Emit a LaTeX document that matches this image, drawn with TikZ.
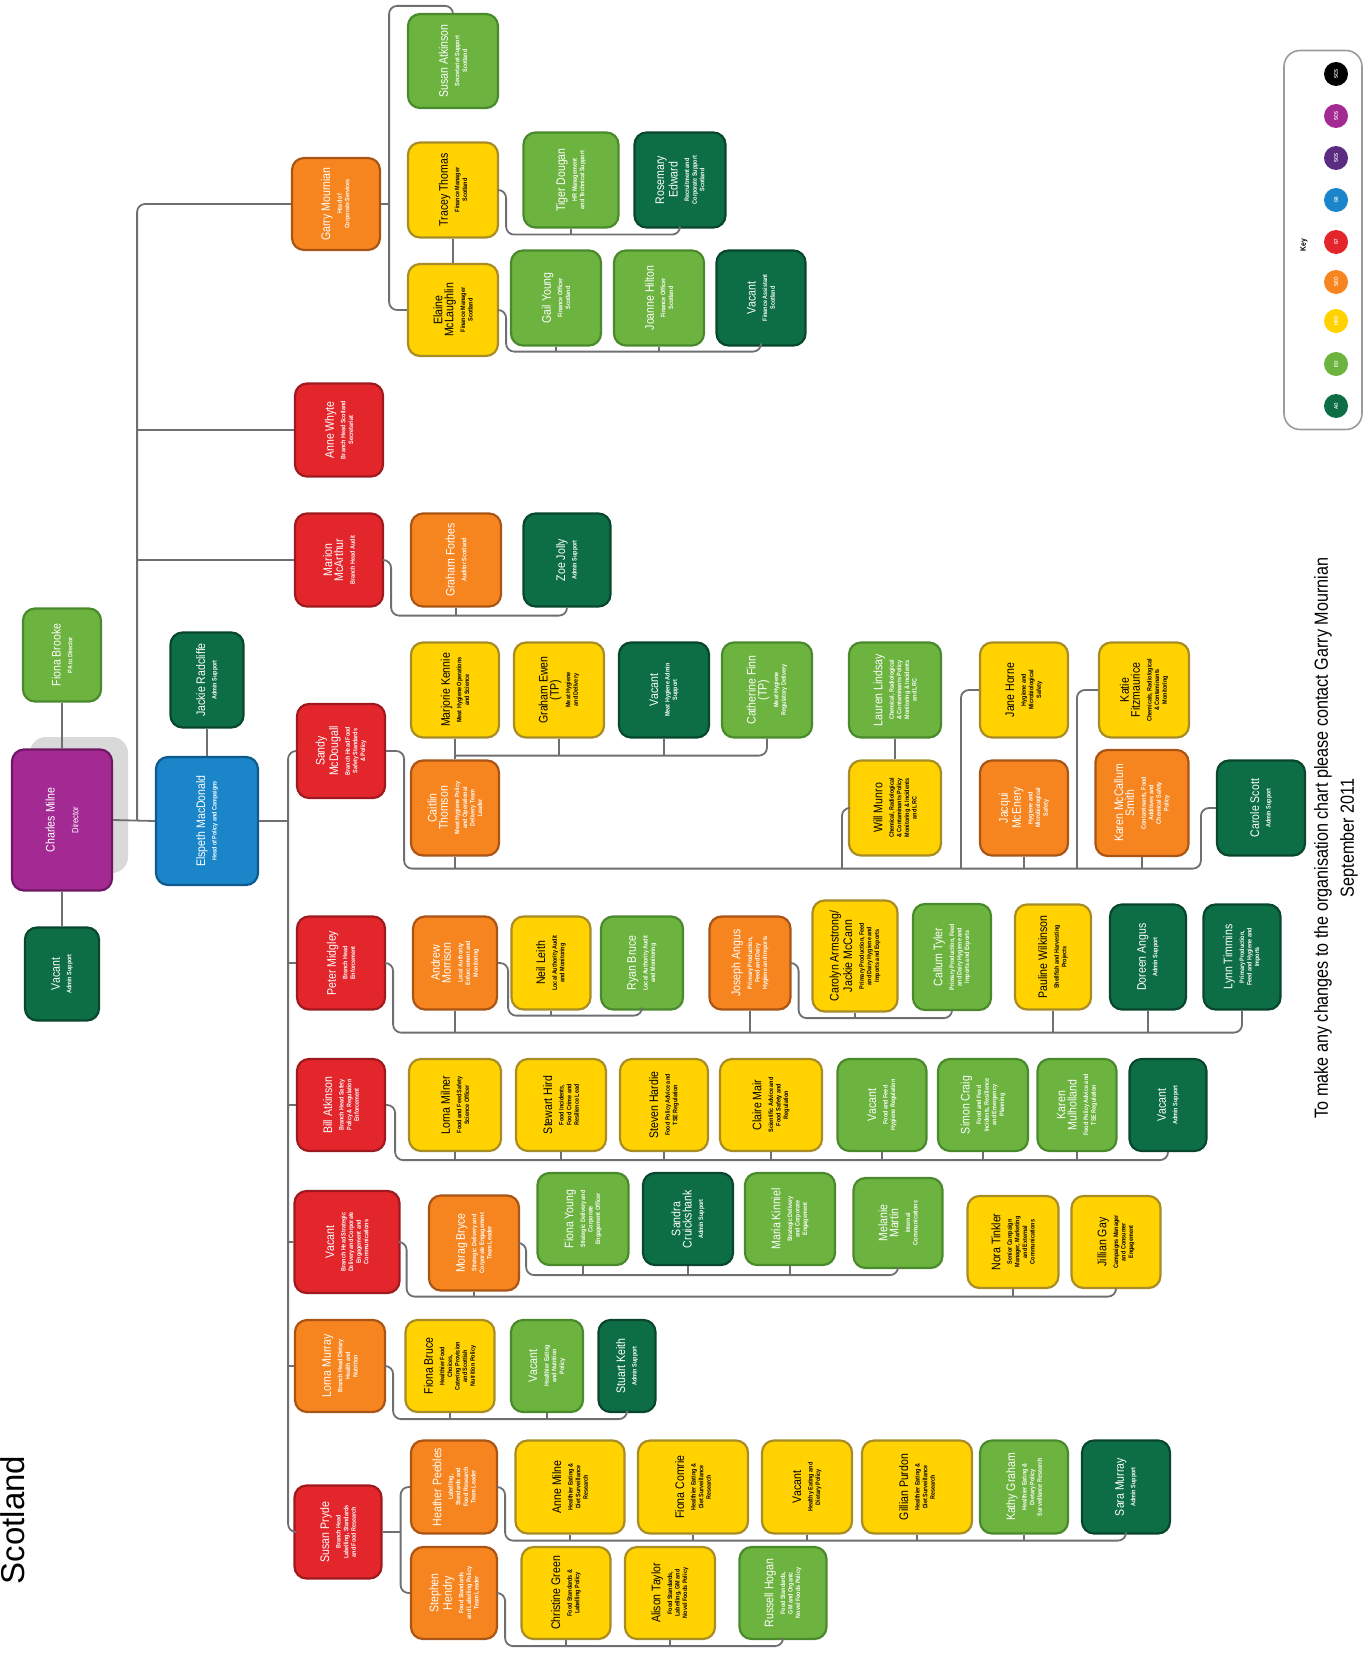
\documentclass[tikz,border=0pt]{standalone}
\usepackage{fontspec}
\setmainfont{Liberation Sans}
\newfontfamily\narrowfont{Liberation Sans}[FakeStretch=0.85]
\usepackage{tikz}
\usetikzlibrary{positioning,calc}
\definecolor{cpurple}{HTML}{A42A93}
\definecolor{cpurpleD}{HTML}{6E1763}
\definecolor{cdpurple}{HTML}{5A2D82}
\definecolor{cblue}{HTML}{1A85C8}
\definecolor{cblueD}{HTML}{0F5A8C}
\definecolor{cred}{HTML}{E3262C}
\definecolor{credD}{HTML}{9E1A1F}
\definecolor{corange}{HTML}{F6841F}
\definecolor{corangeD}{HTML}{A95516}
\definecolor{cyellow}{HTML}{FFD200}
\definecolor{cyellowD}{HTML}{A88C25}
\definecolor{clgreen}{HTML}{6CB33F}
\definecolor{clgreenD}{HTML}{4B8A2C}
\definecolor{cdgreen}{HTML}{0D6E46}
\definecolor{cdgreenD}{HTML}{08472D}
\definecolor{linkgrey}{HTML}{6E6F72}
\definecolor{keygrey}{HTML}{9A9B9D}
\newcommand{\nm}[1]{{\fontsize{6.2}{7}\selectfont\mdseries #1}}
\tikzset{
  box/.style={draw, rounded corners=6pt, rotate=90, line width=1.1pt, inner sep=1pt,
    align=center, minimum width=47pt, minimum height=44pt,
    font=\narrowfont\fontsize{3.2}{3.8}\selectfont\bfseries},
  sz/.style 2 args={minimum height=#1*0.5pt, minimum width=#2*0.5pt},
  purp/.style={box, fill=cpurple, draw=cpurpleD, text=white},
  blu/.style={box, fill=cblue, draw=cblueD, text=white},
  rd/.style={box, fill=cred, draw=credD, text=white},
  org/.style={box, fill=corange, draw=corangeD, text=white},
  yel/.style={box, fill=cyellow, draw=cyellowD, text=black},
  lgr/.style={box, fill=clgreen, draw=clgreenD, text=white},
  dgr/.style={box, fill=cdgreen, draw=cdgreenD, text=white},
  link/.style={draw=linkgrey, line width=0.9pt, rounded corners=4pt},
  keydot/.style={circle, fill=#1, minimum size=12pt, inner sep=0pt, rotate=90, text=white,
    font=\narrowfont\fontsize{2.6}{3}\selectfont\bfseries},
}
\begin{document}
\begin{tikzpicture}[x=0.5pt,y=-0.5pt]
\useasboundingbox (0,0) rectangle (1369,1653);

% title
\node[rotate=90, font=\fontsize{16.5}{18}\selectfont] (title) at (13,1520) {Scotland};

% director and deputy
\fill[gray!30, rounded corners=8pt] (30,737) rectangle (128,873);
\node[purp, sz={100}{141}] (charles) at (62,820) {\nm{Charles Milne}\\[8pt]{\fontsize{4.5}{5}\selectfont\mdseries Director}};
\node[lgr, sz={78}{93}] (fionaB) at (62,655) {\nm{Fiona Brooke}\\[2pt]PA to Director};
\node[dgr, sz={74}{93}] (vacA) at (62,974) {\nm{Vacant}\\[2pt]Admin Support};
\node[blu, sz={102}{128}] (elspeth) at (207,821) {\nm{Elspeth MacDonald}\\[2pt]Head of Policy and Campaigns};
\node[dgr, sz={73}{95}] (jackie) at (207,680) {\nm{Jackie Radcliffe}\\[2pt]Admin Support};

% branch heads
\node[org, sz={88}{92}] (garry) at (336,204) {\nm{Garry Mournian}\\[2pt]Head of\\Corporate Services};
\node[rd, sz={88}{93}] (anne) at (339,430) {\nm{Anne Whyte}\\[2pt]Branch Head Scotland\\Secretariat};
\node[rd, sz={88}{93}] (marion) at (339,560) {\nm{Marion}\\\nm{McArthur}\\[2pt]Branch Head Audit};
\node[rd, sz={88}{94}] (sandy) at (341,751) {\nm{Sandy}\\\nm{McDougall}\\[2pt]Branch Head Food\\Safety Standards\\\& Policy};
\node[rd, sz={88}{93}] (peter) at (341,963) {\nm{Peter Midgley}\\[2pt]Branch Head\\Enforcement};
\node[rd, sz={88}{92}] (bill) at (341,1105) {\nm{Bill Atkinson}\\[2pt]Branch Head Safety\\Policy \& Regulation\\Enforcement};
\node[rd, sz={105}{102}] (vacR) at (347,1242) {\nm{Vacant}\\[2pt]Branch Head Strategic\\Delivery and Corporate\\Engagement and\\Communications};
\node[org, sz={90}{92}] (lornaM) at (340,1366) {\nm{Lorna Murray}\\[2pt]Branch Head Dietary\\Health and\\Nutrition};
\node[rd, sz={87}{93}] (susanP) at (338,1532) {\nm{Susan Pryde}\\[2pt]Branch Head\\Labelling, Standards\\and Food Research};

% corporate services
\node[lgr, sz={90}{94}] (susanA) at (453,61) {\nm{Susan Atkinson}\\[2pt]Secretariat Support\\Scotland};
\node[yel, sz={90}{95}] (tracey) at (453,190) {\nm{Tracey Thomas}\\[2pt]Finance Manager\\Scotland};
\node[yel, sz={90}{92}] (elaine) at (453,310) {\nm{Elaine}\\\nm{McLaughlin}\\[2pt]Finance Manager\\Scotland};
\node[lgr, sz={95}{95}] (tiger) at (571,180) {\nm{Tiger Dougan}\\[2pt]HR Management\\and Technical Support};
\node[dgr, sz={91}{95}] (rosemary) at (680,180) {\nm{Rosemary}\\\nm{Edward}\\[2pt]Recruitment and\\Corporate Support\\Scotland};
\node[lgr, sz={90}{95}] (gail) at (556,298) {\nm{Gail Young}\\[2pt]Finance Officer\\Scotland};
\node[lgr, sz={90}{95}] (joanne) at (659,298) {\nm{Joanne Hilton}\\[2pt]Finance Officer\\Scotland};
\node[dgr, sz={89}{95}] (vacGF) at (761,298) {\nm{Vacant}\\[2pt]Finance Assistant\\Scotland};

% audit
\node[org, sz={90}{93}] (grahamF) at (456,560) {\nm{Graham Forbes}\\[2pt]Auditor Scotland};
\node[dgr, sz={87}{93}] (zoe) at (567,560) {\nm{Zoe Jolly}\\[2pt]Admin Support};

% food safety
\node[yel, sz={88}{95}] (marjorie) at (455,690) {\nm{Marjorie Kennie}\\[2pt]Meat Hygiene Operations\\and Science};
\node[yel, sz={90}{95}] (ewen) at (559,690) {\nm{Graham Ewen}\\\nm{(TP)}\\[2pt]Meat Hygiene\\and Delivery};
\node[dgr, sz={90}{95}] (vacS) at (664,690) {\nm{Vacant}\\[2pt]Meat Hygiene Admin\\Support};
\node[lgr, sz={90}{95}] (catherine) at (767,690) {\nm{Catherine Finn}\\\nm{(TP)}\\[2pt]Meat Hygiene\\Regulatory Delivery};
\node[org, sz={88}{95}] (caitlin) at (455,808) {\nm{Caitlin}\\\nm{Thomson}\\[2pt]Meat Hygiene Policy\\and Operational\\Delivery Team\\Leader};
\node[lgr, sz={92}{95}] (lauren) at (895,690) {\nm{Lauren Lindsay}\\[2pt]Chemical, Radiological\\\& Contaminants Policy\\Monitoring \& Incidents\\and LRC};
\node[yel, sz={92}{95}] (will) at (895,808) {\nm{Will Munro}\\[2pt]Chemical, Radiological\\\& Contaminants Policy\\Monitoring \& Incidents\\and LRC};
\node[yel, sz={88}{95}] (jane) at (1024,690) {\nm{Jane Horne}\\[2pt]Hygiene and\\Microbiological\\Safety};
\node[org, sz={88}{95}] (jacqui) at (1024,808) {\nm{Jacqui}\\\nm{McEnery}\\[2pt]Hygiene and\\Microbiological\\Safety};
\node[yel, sz={90}{95}] (katie) at (1144,690) {\nm{Katie}\\\nm{Fitzmaurice}\\[2pt]Chemicals, Radiological\\\& Contaminants\\Monitoring};
\node[org, sz={93}{106}] (karenMc) at (1142,803) {\nm{Karen McCallum}\\\nm{Smith}\\[2pt]Contaminants, Food\\Additives and\\Chemical Safety\\Policy};
\node[dgr, sz={88}{95}] (carole) at (1261,808) {\nm{Carole Scott}\\[2pt]Admin Support};

% enforcement
\node[org, sz={84}{93}] (andrew) at (455,963) {\nm{Andrew}\\\nm{Morrison}\\[2pt]Local Authority\\Enforcement and\\Monitoring};
\node[yel, sz={79}{93}] (neil) at (551,963) {\nm{Neil Leith}\\[2pt]Local Authority Audit\\and Monitoring};
\node[lgr, sz={82}{93}] (ryan) at (642,963) {\nm{Ryan Bruce}\\[2pt]Local Authority Audit\\and Monitoring};
\node[org, sz={81}{93}] (joseph) at (750,963) {\nm{Joseph Angus}\\[2pt]Primary Production,\\Feed and Dairy\\Hygiene and Imports};
\node[yel, sz={85}{111}] (carolyn) at (855,956) {\nm{Carolyn Armstrong/}\\\nm{Jackie McCann}\\[2pt]Primary Production, Feed\\and Dairy Hygiene and\\Imports and Exports};
\node[lgr, sz={78}{106}] (callum) at (952,957) {\nm{Callum Tyler}\\[2pt]Primary Production, Feed\\and Dairy Hygiene and\\Imports and Exports};
\node[yel, sz={76}{105}] (pauline) at (1053,957) {\nm{Pauline Wilkinson}\\[2pt]Shellfish and Harvesting\\Projects};
\node[dgr, sz={76}{105}] (doreen) at (1148,957) {\nm{Doreen Angus}\\[2pt]Admin Support};
\node[dgr, sz={77}{105}] (lynn) at (1242,957) {\nm{Lynn Timmins}\\[2pt]Primary Production,\\Feed and Hygiene and\\Imports};

% safety policy
\node[yel, sz={92}{92}] (lornaMi) at (455,1105) {\nm{Lorna Milner}\\[2pt]Food and Feed Safety\\Science Officer};
\node[yel, sz={90}{92}] (stewart) at (561,1105) {\nm{Stewart Hird}\\[2pt]Food Incidents,\\Food Crime and\\Resilience Lead};
\node[yel, sz={88}{92}] (steven) at (664,1105) {\nm{Steven Hardie}\\[2pt]Food Policy Advice and\\TSE Regulation};
\node[yel, sz={102}{92}] (claire) at (771,1105) {\nm{Claire Mair}\\[2pt]Scientific Advice and\\Food Safety and\\Regulation};
\node[lgr, sz={89}{92}] (vacB1) at (882,1105) {\nm{Vacant}\\[2pt]Food and Feed\\Hygiene Regulation};
\node[lgr, sz={90}{92}] (simon) at (983,1105) {\nm{Simon Craig}\\[2pt]Food and Feed\\Incidents, Resilience\\and Emergency\\Planning};
\node[lgr, sz={79}{92}] (karenMu) at (1077,1105) {\nm{Karen}\\\nm{Mulholland}\\[2pt]Food Policy Advice and\\TSE Regulation};
\node[dgr, sz={77}{92}] (vacB2) at (1168,1105) {\nm{Vacant}\\[2pt]Admin Support};

% strategic delivery
\node[org, sz={90}{95}] (morag) at (474,1243) {\nm{Morag Bryce}\\[2pt]Strategic Delivery and\\Corporate Engagement\\Team Leader};
\node[lgr, sz={91}{92}] (fionaY) at (583,1219) {\nm{Fiona Young}\\[2pt]Strategic Delivery and\\Corporate\\Engagement Officer};
\node[dgr, sz={90}{92}] (sandra) at (688,1219) {\nm{Sandra}\\\nm{Cruickshank}\\[2pt]Admin Support};
\node[lgr, sz={90}{92}] (maria) at (790,1219) {\nm{Maria Kinniel}\\[2pt]Strategic Delivery\\and Corporate\\Engagement};
\node[lgr, sz={89}{90}] (melanie) at (898,1223) {\nm{Melanie}\\\nm{Martin}\\[2pt]Internal\\Communications};
\node[yel, sz={91}{92}] (nora) at (1013,1242) {\nm{Nora Tinkler}\\[2pt]Senior Campaign\\Manager, Marketing\\and External\\Communications};
\node[yel, sz={89}{92}] (jillian) at (1116,1242) {\nm{Jillian Gay}\\[2pt]Campaigns Manager\\and Consumer\\Engagement};

% dietary health
\node[yel, sz={89}{92}] (fionaBr) at (450,1366) {\nm{Fiona Bruce}\\[2pt]Healthier Food\\Choices,\\Catering Provision\\and Scottish\\Nutrition Policy};
\node[lgr, sz={72}{92}] (vacL) at (547,1366) {\nm{Vacant}\\[2pt]Healthier Eating\\and Nutrition\\Policy};
\node[dgr, sz={57}{92}] (stuart) at (627,1366) {\nm{Stuart Keith}\\[2pt]Admin Support};

% labelling and standards
\node[org, sz={86}{93}] (heather) at (454,1487) {\nm{Heather Peebles}\\[2pt]Labelling,\\Standards and\\Food Research\\Team Leader};
\node[org, sz={86}{92}] (stephen) at (454,1593) {\nm{Stephen}\\\nm{Hendry}\\[2pt]Food Standards\\and Labelling Policy\\Team Leader};
\node[yel, sz={109}{93}] (anneM) at (570,1487) {\nm{Anne Milne}\\[2pt]Healthier Eating \&\\Diet Surveillance\\Research};
\node[yel, sz={110}{93}] (fionaC) at (693,1487) {\nm{Fiona Comrie}\\[2pt]Healthier Eating \&\\Diet Surveillance\\Research};
\node[yel, sz={90}{93}] (vacY) at (807,1487) {\nm{Vacant}\\[2pt]Healthy Eating and\\Dietary Policy};
\node[yel, sz={110}{93}] (gillian) at (917,1487) {\nm{Gillian Purdon}\\[2pt]Healthier Eating \&\\Diet Surveillance\\Research};
\node[lgr, sz={88}{93}] (kathy) at (1024,1487) {\nm{Kathy Graham}\\[2pt]Healthier Eating \&\\Dietary Policy\\Surveillance Research};
\node[dgr, sz={88}{93}] (sara) at (1126,1487) {\nm{Sara Murray}\\[2pt]Admin Support};
\node[yel, sz={89}{92}] (christine) at (566,1593) {\nm{Christine Green}\\[2pt]Food Standards \&\\Labelling Policy};
\node[yel, sz={90}{92}] (alison) at (670,1593) {\nm{Alison Taylor}\\[2pt]Food Standards,\\Labelling, GM and\\Novel Foods Policy};
\node[lgr, sz={87}{92}] (russell) at (783,1593) {\nm{Russell Hogan}\\[2pt]Food Standards,\\GM and Organic\\Novel Foods Policy};

% top level links
\draw[link] (fionaB.west) -- (charles.east);
\draw[link] (charles.west) -- (vacA.east);
\draw[link] (jackie.west) -- (elspeth.east);
\coordinate (cbus) at ($(charles.south)+(24,0)$);
\draw[link] (charles.south) -- (elspeth.north);
\draw[link] (cbus) |- (garry.north);
\foreach \n in {anne,marion} \draw[link] (\n.north) -- (\n.north -| cbus);
\coordinate (ebus) at ($(elspeth.south)+(29,0)$);
\draw[link] (elspeth.south) -- (ebus);
\draw[link] (sandy.north) -| (ebus) |- (susanP.north);
\foreach \n in {peter,bill,vacR,lornaM} \draw[link] (\n.north) -- (\n.north -| ebus);

% corporate services links
\coordinate (gbus) at ($(garry.south)+(8,0)$);
\draw[link] (garry.south) -- (gbus);
\draw[link] (susanA.east) -- ++(0,-7) -| (gbus) |- (elaine.north);
\draw[link] (tracey.west) -- (elaine.east);
\coordinate (tbus) at ($(rosemary.west)+(0,6)$);
\draw[link] (tracey.south) -- ++(7,0) |- (tbus) -- (rosemary.west);
\draw[link] (tiger.west) -- (tiger.west |- tbus);
\coordinate (elbus) at ($(vacGF.west)+(0,5)$);
\draw[link] (elaine.south) -- ++(7,0) |- (elbus) -- (vacGF.west);
\foreach \n in {gail,joanne} \draw[link] (\n.west) -- (\n.west |- elbus);

% audit links
\coordinate (mbus) at ($(zoe.west)+(0,8)$);
\draw[link] (marion.south) -- ++(7,0) |- (mbus) -- (zoe.west);
\draw[link] (grahamF.west) -- (grahamF.west |- mbus);

% food safety links
\coordinate (sbus) at ($(caitlin.west)+(0,12)$);
\draw[link] (sandy.south) -- ++(18,0) |- ($(carole.north |- sbus)+(-15,0)$) |- (carole.north);
\draw[link] (caitlin.west) -- (sbus);
\foreach \n in {jacqui,karenMc} \draw[link] (\n.west) -- (\n.west |- sbus);
\draw[link] ($(will.north |- sbus)+(-6,0)$) |- (will.north);
\draw[link] ($(jane.north |- sbus)+(-18,0)$) |- (jane.north);
\draw[link] ($(katie.north |- sbus)+(-21,0)$) |- (katie.north);
\draw[link] (lauren.west) -- (will.east);
\draw[link] (marjorie.west) -- (caitlin.east);
\coordinate (cbar) at ($(marjorie.west)+(0,17)$);
\draw[link] (cbar) -| (catherine.west);
\foreach \n in {ewen,vacS} \draw[link] (\n.west) -- (\n.west |- cbar);

% enforcement links
\coordinate (pbus) at ($(peter.west)+(0,22)$);
\draw[link] (peter.south) -- ++(7,0) |- (lynn.west |- pbus) -- (lynn.west);
\foreach \n in {andrew,joseph,pauline,doreen} \draw[link] (\n.west) -- (\n.west |- pbus);
\coordinate (abus) at ($(ryan.west)+(0,5)$);
\draw[link] (andrew.south) -- ++(10,0) |- (abus) -- (ryan.west);
\draw[link] (neil.west) -- (neil.west |- abus);
\coordinate (jbus) at ($(callum.west)+(0,7)$);
\draw[link] (joseph.south) -- ++(7,0) |- (jbus) -- (callum.west);
\draw[link] (carolyn.west) -- (carolyn.west |- jbus);

% safety policy links
\coordinate (bbus) at ($(bill.west)+(0,8)$);
\draw[link] (bill.south) -- ++(9,0) |- (vacB2.west |- bbus) -- (vacB2.west);
\foreach \n in {lornaMi,stewart,steven,claire,vacB1,simon,karenMu} \draw[link] (\n.west) -- (\n.west |- bbus);

% strategic delivery links
\coordinate (vbus) at ($(morag.west)+(0,5)$);
\draw[link] (vacR.south) -- ++(6,0) |- (jillian.west |- vbus) -- (jillian.west);
\foreach \n in {morag,nora} \draw[link] (\n.west) -- (\n.west |- vbus);
\coordinate (mobus) at ($(melanie.west)+(0,6)$);
\draw[link] (morag.south) -- ++(6,0) |- (mobus) -- (melanie.west);
\foreach \n in {fionaY,sandra,maria} \draw[link] (\n.west) -- (\n.west |- mobus);

% dietary health links
\coordinate (lbus) at ($(lornaM.west)+(0,6)$);
\draw[link] (lornaM.south) -- ++(7,0) |- (stuart.west |- lbus) -- (stuart.west);
\foreach \n in {fionaBr,vacL} \draw[link] (\n.west) -- (\n.west |- lbus);

% labelling links
\coordinate (spbus) at ($(susanP.south)+(18,0)$);
\draw[link] (susanP.south) -- (spbus);
\draw[link] (heather.north) -| (spbus) |- (stephen.north);
\coordinate (hbus) at ($(heather.west)+(0,6)$);
\draw[link] (heather.south) -- ++(7,0) |- (sara.west |- hbus) -- (sara.west);
\foreach \n in {anneM,fionaC,vacY,gillian,kathy} \draw[link] (\n.west) -- (\n.west |- hbus);
\coordinate (stbus) at ($(stephen.west)+(0,6)$);
\draw[link] (stephen.south) -- ++(7,0) |- (russell.west |- stbus) -- (russell.west);
\foreach \n in {christine,alison} \draw[link] (\n.west) -- (\n.west |- stbus);

% key
\node[draw=keygrey, rounded corners=8pt, line width=0.8pt, minimum width=39pt, minimum height=189.5pt] (key) at (1323,240) {};
\node[rotate=90, font=\narrowfont\fontsize{4}{4}\selectfont\bfseries] (keylabel) at (1304,245) {Key};
\foreach \c/\y/\t in {black/74/SCS, cpurple/116/SCS, cdpurple/158/SCS, cblue/200/G6, cred/242/G7,
  corange/282/SEO, cyellow/321/HEO, clgreen/364/EO, cdgreen/406/AO}
  \node[keydot=\c] (k\y) at (1336,\y) {\t};

% note
\node[rotate=90, align=center, font=\narrowfont\fontsize{9.5}{13}\selectfont] (note) at (1336,838)
  {To make any changes to the organisation chart please contact Garry Mournian\\September 2011};
\end{tikzpicture}
\end{document}
